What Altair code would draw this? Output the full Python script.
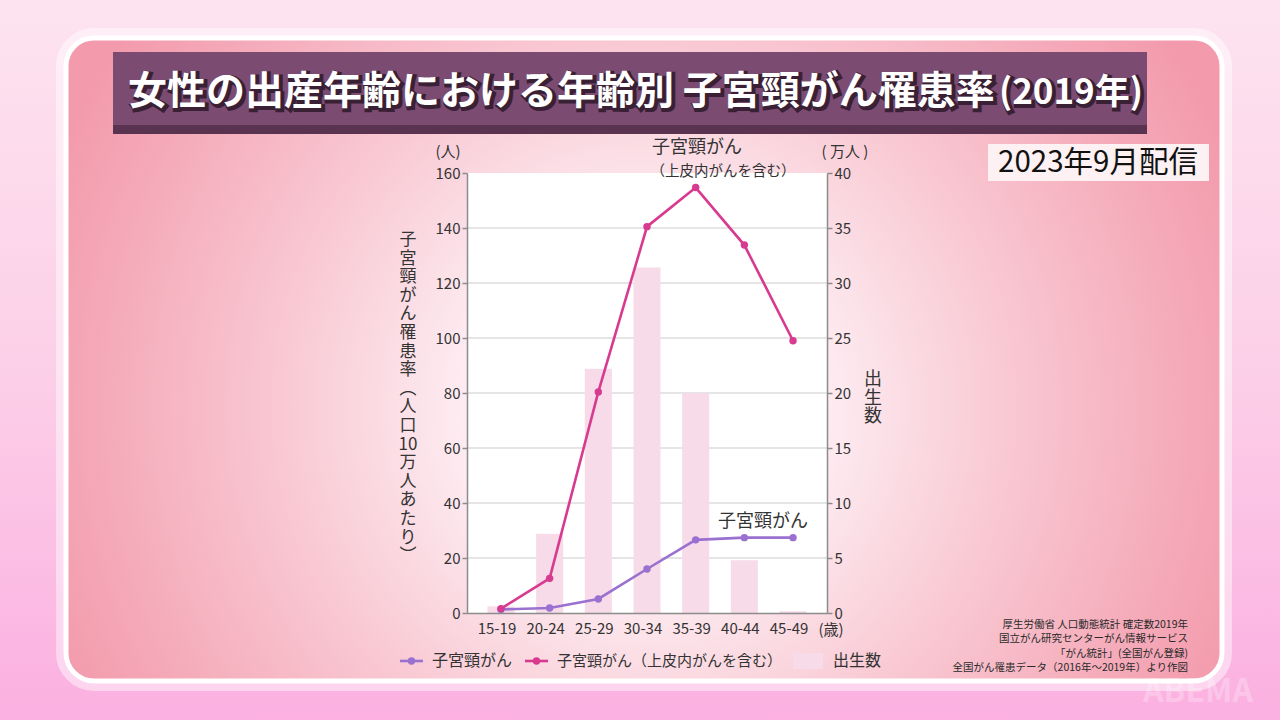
import altair as alt
import pandas as pd

# ---------------- data ----------------
ages = ["15-19", "20-24", "25-29", "30-34", "35-39", "40-44", "45-49"]
series_names = ["子宮頸がん", "子宮頸がん（上皮内がんを含む）"]
cervical = [1.3, 1.8, 5.1, 16.0, 26.6, 27.4, 27.4]
cervical_incl = [1.6, 12.6, 80.4, 140.5, 154.7, 133.8, 99.0]
births_man = [0.6, 7.2, 22.2, 31.4, 20.0, 4.8, 0.16]
left_ticks = [0, 20, 40, 60, 80, 100, 120, 140, 160]
right_ticks = [0, 5, 10, 15, 20, 25, 30, 35, 40]
grid_ticks = [5, 10, 15, 20, 25, 30, 35]
left_title_chars = ["子", "宮", "頸", "が", "ん", "罹", "患", "率", "︵",
                    "人", "口", "10", "万", "人", "あ", "た", "り", "︶"]
right_title_chars = ["出", "生", "数"]
source_lines = ["厚生労働省 人口動態統計 確定数2019年",
                "国立がん研究センターがん情報サービス",
                "「がん統計」(全国がん登録)",
                "全国がん罹患データ（2016年～2019年）より作図"]
title_main = "女性の出産年齢における年齢別 子宮頸がん罹患率"
title_year = "(2019年)"
date_tag = "2023年9月配信"

FONT = "Noto Sans CJK JP"
PURPLE = "#9a71d0"
MAGENTA = "#d83a8f"
BARC = "#f7dbe9"
AXC = "#8c8c8c"
TXT = "#333333"

OX, OY = 467, 173
W, H = 360, 440


def px(x):
    return x - OX


def py(y):
    return y - OY


dummy = pd.DataFrame({"k": [0]})


def deco():
    return alt.Chart(dummy)


def rect(x1, x2, y1, y2, **kw):
    return deco().mark_rect(**kw).encode(
        x=alt.value(px(x1)), x2=alt.value(px(x2)),
        y=alt.value(py(y1)), y2=alt.value(py(y2)))


def text(x, y, t, size, align="center", color=TXT, **kw):
    return deco().mark_text(align=align, baseline="middle", fontSize=size,
                            font=FONT, color=color, **kw).encode(
        x=alt.value(px(x)), y=alt.value(py(y)), text=alt.value(t))


# ---------------- decorations ----------------
canvas_bg = rect(0, 1280, 0, 720, fill=alt.LinearGradient(
    gradient="linear", x1=0, x2=0, y1=0, y2=1,
    stops=[alt.GradientStop(color="#fde3ef", offset=0),
           alt.GradientStop(color="#fcd0e8", offset=0.5),
           alt.GradientStop(color="#fbb0e1", offset=1)]))

panel_glow = rect(60, 1228, 32, 687, cornerRadius=34, fillOpacity=0,
                  stroke="white", strokeOpacity=0.45, strokeWidth=8)

panel = rect(66, 1222, 38, 681, cornerRadius=28, stroke="white", strokeWidth=5,
             fill=alt.RadialGradient(
                 gradient="radial", x1=0.5, y1=0.54, r1=0, x2=0.5, y2=0.54, r2=0.55,
                 stops=[alt.GradientStop(color="#ffffff", offset=0),
                        alt.GradientStop(color="#fdeaf0", offset=0.3),
                        alt.GradientStop(color="#f9cbd5", offset=0.55),
                        alt.GradientStop(color="#f5adbb", offset=0.82),
                        alt.GradientStop(color="#f39bad", offset=1)]))

title_bar = rect(113, 1147, 52, 125, fill="#7c4b71")
title_strip = rect(113, 1147, 125, 134, fill="#5a3351")
title_shadow = text(130, 94, title_main, 39, align="left", color="#3a2035",
                    fontWeight="bold", stroke="#3a2035", strokeWidth=4)
title_text = text(128, 92, title_main, 39, align="left", color="#ffffff",
                  fontWeight="bold")
year_shadow = text(1145, 95, title_year, 35, align="right", color="#3a2035",
                   fontWeight="bold", stroke="#3a2035", strokeWidth=4)
year_text = text(1143, 93, title_year, 35, align="right", color="#ffffff",
                 fontWeight="bold")

tag_box = rect(988, 1209, 144, 181, fill="#fdf1f4")
tag_text = text(1098, 163, date_tag, 29.5, color="#111111")

plot_bg = deco().mark_rect(fill="white").encode(
    x=alt.value(0), x2=alt.value(W), y=alt.value(0), y2=alt.value(H))

# ---------------- data layers ----------------
xscale = alt.Scale(paddingInner=0.445, paddingOuter=0.42)
xaxis = alt.Axis(title=None, labelAngle=0, ticks=False, domain=True,
                 domainColor=AXC, domainWidth=1.5, labelFontSize=15,
                 labelColor=TXT, labelPadding=8, labelFont=FONT,
                 labelOffset=-4, grid=False, zindex=1)

right_axis = alt.Axis(orient="right", values=right_ticks, title=None,
                      grid=False, tickSize=5, tickColor=AXC, tickWidth=1.5,
                      domainColor=AXC, domainWidth=1.5, labelFontSize=15,
                      labelColor=TXT, labelPadding=2, labelFont=FONT, zindex=1)
left_axis = alt.Axis(orient="left", values=left_ticks, title=None,
                     grid=False, tickSize=5, tickColor=AXC, tickWidth=1.5,
                     domainColor=AXC, domainWidth=1.5, labelFontSize=15,
                     labelColor=TXT, labelPadding=2, labelFont=FONT, zindex=1)

rscale = alt.Scale(domain=[0, 40], nice=False, zero=True)
lscale = alt.Scale(domain=[0, 160], nice=False, zero=True)

births_df = pd.DataFrame({"age": ages, "births": births_man})
grid_df = pd.DataFrame({"births": grid_ticks})
rate_df = pd.DataFrame({
    "age": ages + ages,
    "series": [series_names[0]] * len(ages) + [series_names[1]] * len(ages),
    "rate": cervical + cervical_incl,
})

grid = alt.Chart(grid_df).mark_rule(color="#dddddd", strokeWidth=1.5).encode(
    y=alt.Y("births:Q", scale=rscale, axis=right_axis),
    x=alt.value(0), x2=alt.value(W))

bars = alt.Chart(births_df).mark_bar(color=BARC).encode(
    x=alt.X("age:N", sort=ages, scale=xscale, axis=xaxis),
    y=alt.Y("births:Q", scale=rscale, axis=right_axis))

right_group = alt.layer(grid, bars)

color = alt.Color("series:N", scale=alt.Scale(domain=series_names,
                                              range=[PURPLE, MAGENTA]),
                  legend=None)
xline = alt.X("age:N", sort=ages, scale=xscale, axis=xaxis, bandPosition=0.5)
yline = alt.Y("rate:Q", scale=lscale, axis=left_axis)

lines = alt.Chart(rate_df).mark_line(strokeWidth=2.6).encode(
    x=xline, y=yline, color=color)
points = alt.Chart(rate_df).mark_point(filled=True, size=55, opacity=1).encode(
    x=xline, y=yline, color=color)

left_group = alt.layer(lines, points)

# ---------------- text annotations ----------------
unit_left = text(448, 152, "(人)", 15)
unit_right = text(845, 152, "( 万人 )", 15)
age_unit = text(831, 630, "(歳)", 15)

# multi-line text: y is the centre of the first line
left_title = deco().mark_text(align="center", baseline="middle", fontSize=17,
                              font=FONT, color=TXT, lineHeight=18.6).encode(
    x=alt.value(px(408)), y=alt.value(py(240)),
    text=alt.value(left_title_chars))
right_title = deco().mark_text(align="center", baseline="middle", fontSize=18,
                               font=FONT, color=TXT, lineHeight=18.5).encode(
    x=alt.value(px(873)), y=alt.value(py(380)),
    text=alt.value(right_title_chars))

ann1 = text(697, 148, series_names[0], 18)
ann2 = text(723, 172, "（上皮内がんを含む）", 14.5)
ann3 = text(763, 522, series_names[0], 18)

# legend
leg_p_line = deco().mark_rule(color=PURPLE, strokeWidth=2.6).encode(
    x=alt.value(px(400)), x2=alt.value(px(423)), y=alt.value(py(661)))
leg_p_pt = deco().mark_point(filled=True, size=55, opacity=1, color=PURPLE).encode(
    x=alt.value(px(411.5)), y=alt.value(py(661)))
leg_p_txt = text(432, 661, series_names[0], 16, align="left")
leg_m_line = deco().mark_rule(color=MAGENTA, strokeWidth=2.6).encode(
    x=alt.value(px(525)), x2=alt.value(px(548)), y=alt.value(py(661)))
leg_m_pt = deco().mark_point(filled=True, size=55, opacity=1, color=MAGENTA).encode(
    x=alt.value(px(536.5)), y=alt.value(py(661)))
leg_m_txt = text(557, 661, series_names[1], 15, align="left")
leg_b_box = rect(793, 823, 653, 669, fill=BARC)
leg_b_txt = text(833, 661, "出生数", 16, align="left")

source = deco().mark_text(align="right", baseline="middle", fontSize=10.5,
                          font=FONT, color="#2a2a2a", lineHeight=14.3).encode(
    x=alt.value(px(1188)), y=alt.value(py(625)),
    text=alt.value(source_lines))

watermark = text(1198, 692, "ABEMA", 32, color="#ffffff", fontWeight="bold",
                 opacity=0.25)

chart = alt.layer(
    canvas_bg, panel_glow, panel, title_bar, title_strip,
    title_shadow, title_text, year_shadow, year_text, tag_box, tag_text,
    plot_bg, right_group, left_group,
    unit_left, unit_right, age_unit, left_title, right_title,
    ann1, ann2, ann3,
    leg_p_line, leg_p_pt, leg_p_txt, leg_m_line, leg_m_pt, leg_m_txt,
    leg_b_box, leg_b_txt, source, watermark,
).resolve_scale(y="independent").properties(
    width=W, height=H,
    autosize=alt.AutoSizeParams(type="none"),
    padding={"left": OX, "top": OY, "right": 1280 - OX - W,
             "bottom": 720 - OY - H},
    background="#fcd0e6",
).configure_view(strokeWidth=0).configure(font=FONT)

chart.save("out.html", embed_options={"renderer": "svg", "actions": False})
